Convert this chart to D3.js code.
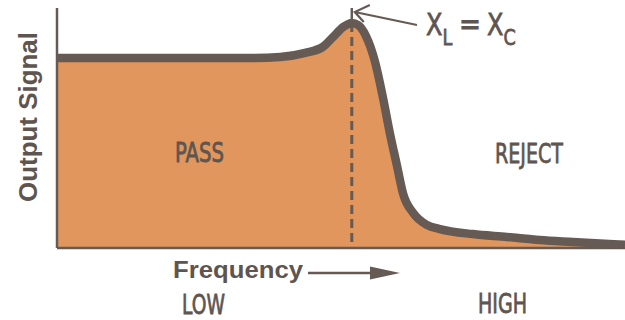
<!DOCTYPE html>
<html>
<head>
<meta charset="utf-8">
<script src="https://cdn.jsdelivr.net/npm/d3@7"></script>
<style>
  body { margin: 0; background: #fff; }
  text { font-family: "Liberation Sans Narrow", "DejaVu Sans", sans-serif; fill: #5f5550; }
  text.label { stroke: #5f5550; stroke-width: 0.8; }
</style>
</head>
<body>
<div id="root"></div>
<script>
// Response curve of a low-pass filter (frequency vs output)
const frequency = [0, 16.4, 34.0, 39.3, 43.7, 46.8, 48.6, 50.4, 51.9, 53.0, 54.4, 56.0, 57.4, 58.6, 59.9, 60.9, 62.7, 65.1, 67.4, 73.2, 79.2, 85.0, 90.8, 100];
const signal = [79.2, 79.2, 79.2, 79.6, 81.3, 83.8, 87.9, 92.1, 93.8, 92.9, 88.3, 77.5, 62.5, 47.9, 33.8, 22.9, 14.6, 9.6, 7.9, 5.8, 4.6, 3.3, 2.5, 1.3];
// Resonant frequency, where XL = XC
const resonance = 51.9;
const regionLabels = ["PASS", "REJECT"];
const rangeLabels = ["LOW", "HIGH"];

const ink = "#665a54";
const width = 625, height = 320;

const x = d3.scaleLinear().domain([0, 100]).range([57, 625]);
const y = d3.scaleLinear().domain([0, 100]).range([248, 8]);

const points = frequency.map((f, i) => ({ f, s: signal[i] }));

const svg = d3.select("#root")
  .append("svg")
  .attr("width", width)
  .attr("height", height);

// filled area under the curve
svg.append("path")
  .datum(points)
  .attr("fill", "#e0965c")
  .attr("d", d3.area().curve(d3.curveMonotoneX)
    .x(d => x(d.f)).y0(y(0)).y1(d => y(d.s)));

// axes: plain lines, no ticks
svg.append("line")
  .attr("x1", x(0)).attr("x2", x(0))
  .attr("y1", y(100)).attr("y2", y(0))
  .attr("stroke", ink).attr("stroke-width", 2.5);
svg.append("line")
  .attr("x1", x(0)).attr("x2", x(100))
  .attr("y1", y(0)).attr("y2", y(0))
  .attr("stroke", ink).attr("stroke-width", 2.5);

// resonance marker: small tick above the peak, dashed line below
const peak = signal[frequency.indexOf(resonance)];
svg.append("line")
  .attr("x1", x(resonance)).attr("x2", x(resonance))
  .attr("y1", y(100)).attr("y2", y(peak))
  .attr("stroke", ink).attr("stroke-width", 2.5);
svg.append("line")
  .attr("x1", x(resonance)).attr("x2", x(resonance))
  .attr("y1", y(peak)).attr("y2", y(0))
  .attr("stroke", ink).attr("stroke-width", 3)
  .attr("stroke-dasharray", "9,5");

// the curve itself
svg.append("path")
  .datum(points)
  .attr("fill", "none")
  .attr("stroke", ink)
  .attr("stroke-width", 8.5)
  .attr("stroke-linejoin", "round")
  .attr("d", d3.line().curve(d3.curveMonotoneX)
    .x(d => x(d.f)).y(d => y(d.s)));

// pointer to the peak
const tipX = x(resonance) + 3, tipY = 12;
svg.append("path")
  .attr("fill", "none").attr("stroke", ink).attr("stroke-width", 2.2)
  .attr("d", `M417,25L${tipX},${tipY}M${tipX + 15},5L${tipX},${tipY}L${tipX + 9},22`);

// XL = XC label (condensed by a horizontal scale)
const reactance = (tx, sub) => {
  const t = svg.append("text")
    .attr("class", "label")
    .attr("transform", `translate(${tx},35) scale(0.8,1)`)
    .attr("font-size", 30);
  t.append("tspan").text("X");
  t.append("tspan").attr("dy", 10).attr("font-size", 22).text(sub);
};
reactance(426, "L");
reactance(487, "C");
svg.append("text")
  .attr("class", "label")
  .attr("x", 459).attr("y", 34).attr("font-size", 30)
  .attr("textLength", 22).attr("lengthAdjust", "spacingAndGlyphs")
  .text("=");

// region labels
svg.append("text").attr("class", "label").attr("x", 175).attr("y", 162).attr("font-size", 26)
  .attr("textLength", 49).attr("lengthAdjust", "spacingAndGlyphs").text(regionLabels[0]);
svg.append("text").attr("class", "label").attr("x", 495).attr("y", 163).attr("font-size", 27)
  .attr("textLength", 68).attr("lengthAdjust", "spacingAndGlyphs").text(regionLabels[1]);

// axis titles
svg.append("text")
  .attr("transform", "translate(37,117) rotate(-90)")
  .attr("text-anchor", "middle")
  .attr("font-size", 26).attr("font-weight", "bold")
  .attr("textLength", 170).attr("lengthAdjust", "spacingAndGlyphs")
  .style("font-family", "'Liberation Sans', sans-serif")
  .text("Output Signal");

svg.append("text")
  .attr("x", 173).attr("y", 278)
  .attr("font-size", 23).attr("font-weight", "bold")
  .attr("textLength", 130).attr("lengthAdjust", "spacingAndGlyphs")
  .style("font-family", "'Liberation Sans', sans-serif")
  .text("Frequency");

svg.append("line")
  .attr("x1", 308).attr("x2", 374).attr("y1", 273).attr("y2", 273)
  .attr("stroke", ink).attr("stroke-width", 2.5);
svg.append("path")
  .attr("fill", ink)
  .attr("d", "M370,266.5L400,273L370,279.5Z");

svg.append("text").attr("class", "label").attr("x", 182).attr("y", 314).attr("font-size", 26)
  .attr("textLength", 43).attr("lengthAdjust", "spacingAndGlyphs").text(rangeLabels[0]);
svg.append("text").attr("class", "label").attr("x", 478).attr("y", 313).attr("font-size", 26)
  .attr("textLength", 49).attr("lengthAdjust", "spacingAndGlyphs").text(rangeLabels[1]);
</script>
</body>
</html>
